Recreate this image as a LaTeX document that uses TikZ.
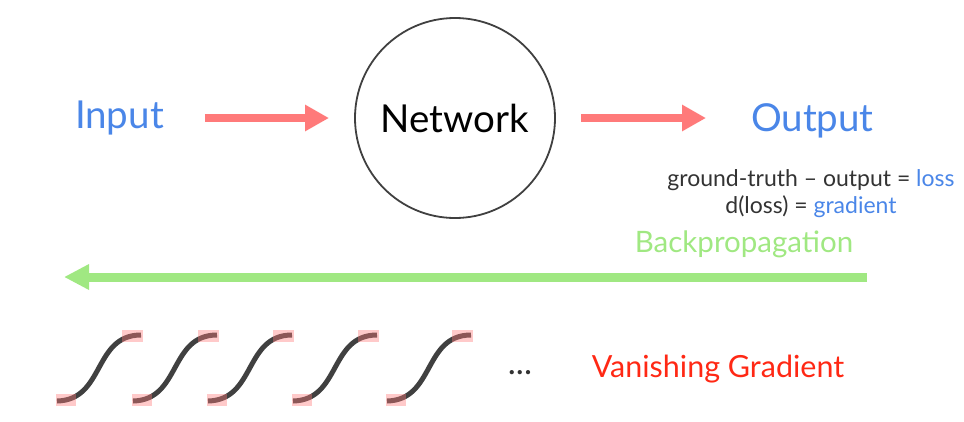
\documentclass[tikz,border=0pt]{standalone}
\usepackage{fontspec}
\setmainfont{Lato}
\usetikzlibrary{arrows.meta}

\definecolor{arrowred}{RGB}{255,122,122}
\definecolor{backgreen}{RGB}{160,232,130}
\definecolor{textblue}{RGB}{74,134,232}
\definecolor{vanishred}{RGB}{255,40,20}
\definecolor{curvegray}{RGB}{64,64,64}
\definecolor{textgray}{RGB}{51,51,51}

\begin{document}
\begin{tikzpicture}[x=1pt, y=-1pt, every node/.style={inner sep=0pt, outer sep=0pt},
    bigtext/.style={font=\fontsize{38.5}{40}\selectfont},
    smalltext/.style={font=\fontsize{23}{26}\selectfont, text=textgray},
    fwdarrow/.style={draw=arrowred, line width=8pt, -{Triangle[length=24pt, width=25pt]}},
    backarrow/.style={draw=backgreen, line width=9pt, -{Triangle[length=25pt, width=24pt]}},
    sigmoid/.style={draw=curvegray, line width=5pt},
    mark box/.style={fill=arrowred, fill opacity=0.4}]
    \useasboundingbox (0,0) rectangle (964,421);

    % Input -> Network -> Output
    \node[bigtext, text=textblue, anchor=base west] (in) at (75,128) {Input};
    \node[circle, draw=curvegray, line width=1.8pt, minimum size=200pt, bigtext] (net) at (455,118) {Network};
    \node[bigtext, text=textblue, anchor=base west] (out) at (751,131) {Output};

    \draw[fwdarrow, shorten <=41pt, shorten >=26pt] (in.east |- net.west) -- (net.west);
    \draw[fwdarrow, shorten <=26pt, shorten >=45pt] (net.east) -- (net.east -| out.west);

    % loss and gradient
    \node[smalltext, anchor=base] (loss) at (811,186) {ground-truth – output = \textcolor{textblue}{loss}};
    \node[smalltext, anchor=base] (grad) at (811,213) {d(loss) = \textcolor{textblue}{gradient}};

    % Backpropagation
    \node[font=\fontsize{29.5}{32}\selectfont, text=backgreen, anchor=base] (bp) at (744,252) {Backpropagation};
    \coordinate (bpstart) at (867,277);
    \coordinate (bpend) at (64,277);
    \draw[backarrow] (bpstart) -- (bpend);

    % sigmoids
    \foreach \x in {56,132,207,292,386} {
        \draw[sigmoid] (\x+1,401) .. controls (\x+49,400) and (\x+37,335) .. (\x+85,335);
        \fill[mark box] (\x,394) rectangle (\x+20,406);
        \fill[mark box] (\x+66,330) rectangle (\x+87,342);
    }

    \node[font=\fontsize{34}{36}\selectfont, text=textgray, anchor=base] (dots) at (520,374) {...};
    \node[font=\fontsize{30.5}{34}\selectfont, text=vanishred, anchor=base] (vg) at (718,377) {Vanishing Gradient};
\end{tikzpicture}
\end{document}
